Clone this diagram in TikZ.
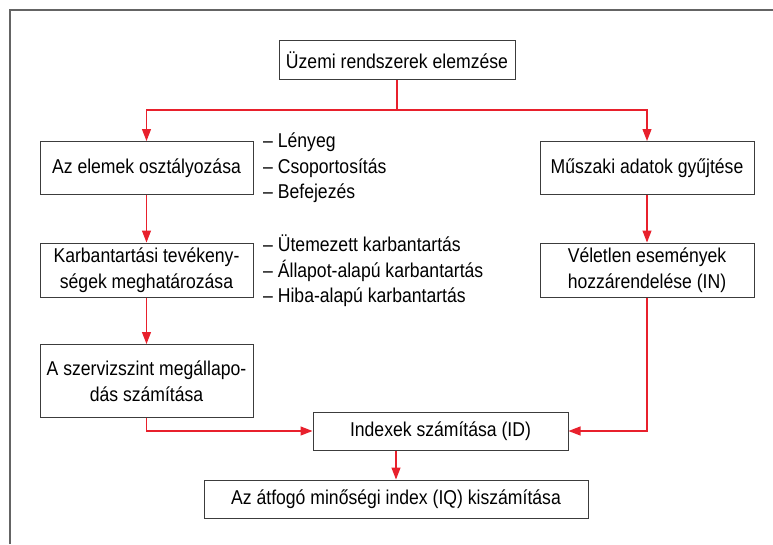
\documentclass[tikz,border=0pt]{standalone}
\usepackage{fontspec}
\setmainfont[FakeStretch=0.88]{Liberation Sans}
\usetikzlibrary{arrows.meta, positioning}
\definecolor{arrowred}{RGB}{232,32,44}
\definecolor{boxgray}{RGB}{60,60,60}
\definecolor{framegray}{RGB}{100,100,100}

\begin{document}
\begin{tikzpicture}[x=1pt,y=-1pt,
  >={Triangle[length=12pt,width=9pt]},
  every node/.style={font=\fontsize{20}{25.5}\selectfont},
  box/.style={draw=boxgray, line width=1pt, align=center, inner sep=2pt},
  link/.style={->, arrowred, line width=1.2pt},
  items/.style={anchor=west, align=left, inner sep=0pt}]

  \useasboundingbox (0,0) rectangle (773,544);
  \draw[framegray, line width=2pt] (10,544) -- (10,10) -- (773,10);

% define the boxes
  \node[box, minimum width=236pt, minimum height=39pt] (uzemi) at (397,60)
{Üzemi rendszerek elemzése};
  \node[box, minimum width=213pt, minimum height=53pt] (elemek) at (146.5,168)
{Az elemek osztályozása};
  \node[box, minimum width=214pt, minimum height=53pt] (muszaki) at (647,168)
{Műszaki adatok gyűjtése};
  \node[box, minimum width=213pt, minimum height=54pt] (karban) at (146.5,270)
{Karbantartási tevékeny-\\ségek meghatározása};
  \node[box, minimum width=214pt, minimum height=54pt] (veletlen) at (647,270)
{Véletlen események\\hozzárendelése (IN)};
  \node[box, minimum width=213pt, minimum height=73pt] (szerviz) at (146.5,381)
{A szervizszint megállapo-\\dás számítása};
  \node[box, minimum width=255pt, minimum height=38pt] (indexek) at (440.5,431)
{Indexek számítása (ID)};
  \node[box, minimum width=384pt, minimum height=38pt] (atfogo) at (396,499)
{Az átfogó minőségi index (IQ) kiszámítása};

% define the lists
  \node[items] (lista1) at (263,168)
{– Lényeg\\– Csoportosítás\\– Befejezés};
  \node[items] (lista2) at (263,271)
{– Ütemezett karbantartás\\– Állapot-alapú karbantartás\\– Hiba-alapú karbantartás};

% define the links
  \coordinate (split) at (uzemi.south |- 0,110);
  \draw[arrowred, line width=1.2pt] (uzemi.south) -- (split);
  \draw[link] (split) -| (elemek.north);
  \draw[link] (split) -| (muszaki.north);
  \draw[link] (elemek) -- (karban);
  \draw[link] (karban) -- (szerviz);
  \draw[link] (muszaki) -- (veletlen);
  \draw[link] (szerviz.south) |- (indexek.west);
  \draw[link] (veletlen.south) |- (indexek.east);
  \draw[link] (atfogo.north |- indexek.south) -- (atfogo.north);

\end{tikzpicture}
\end{document}
